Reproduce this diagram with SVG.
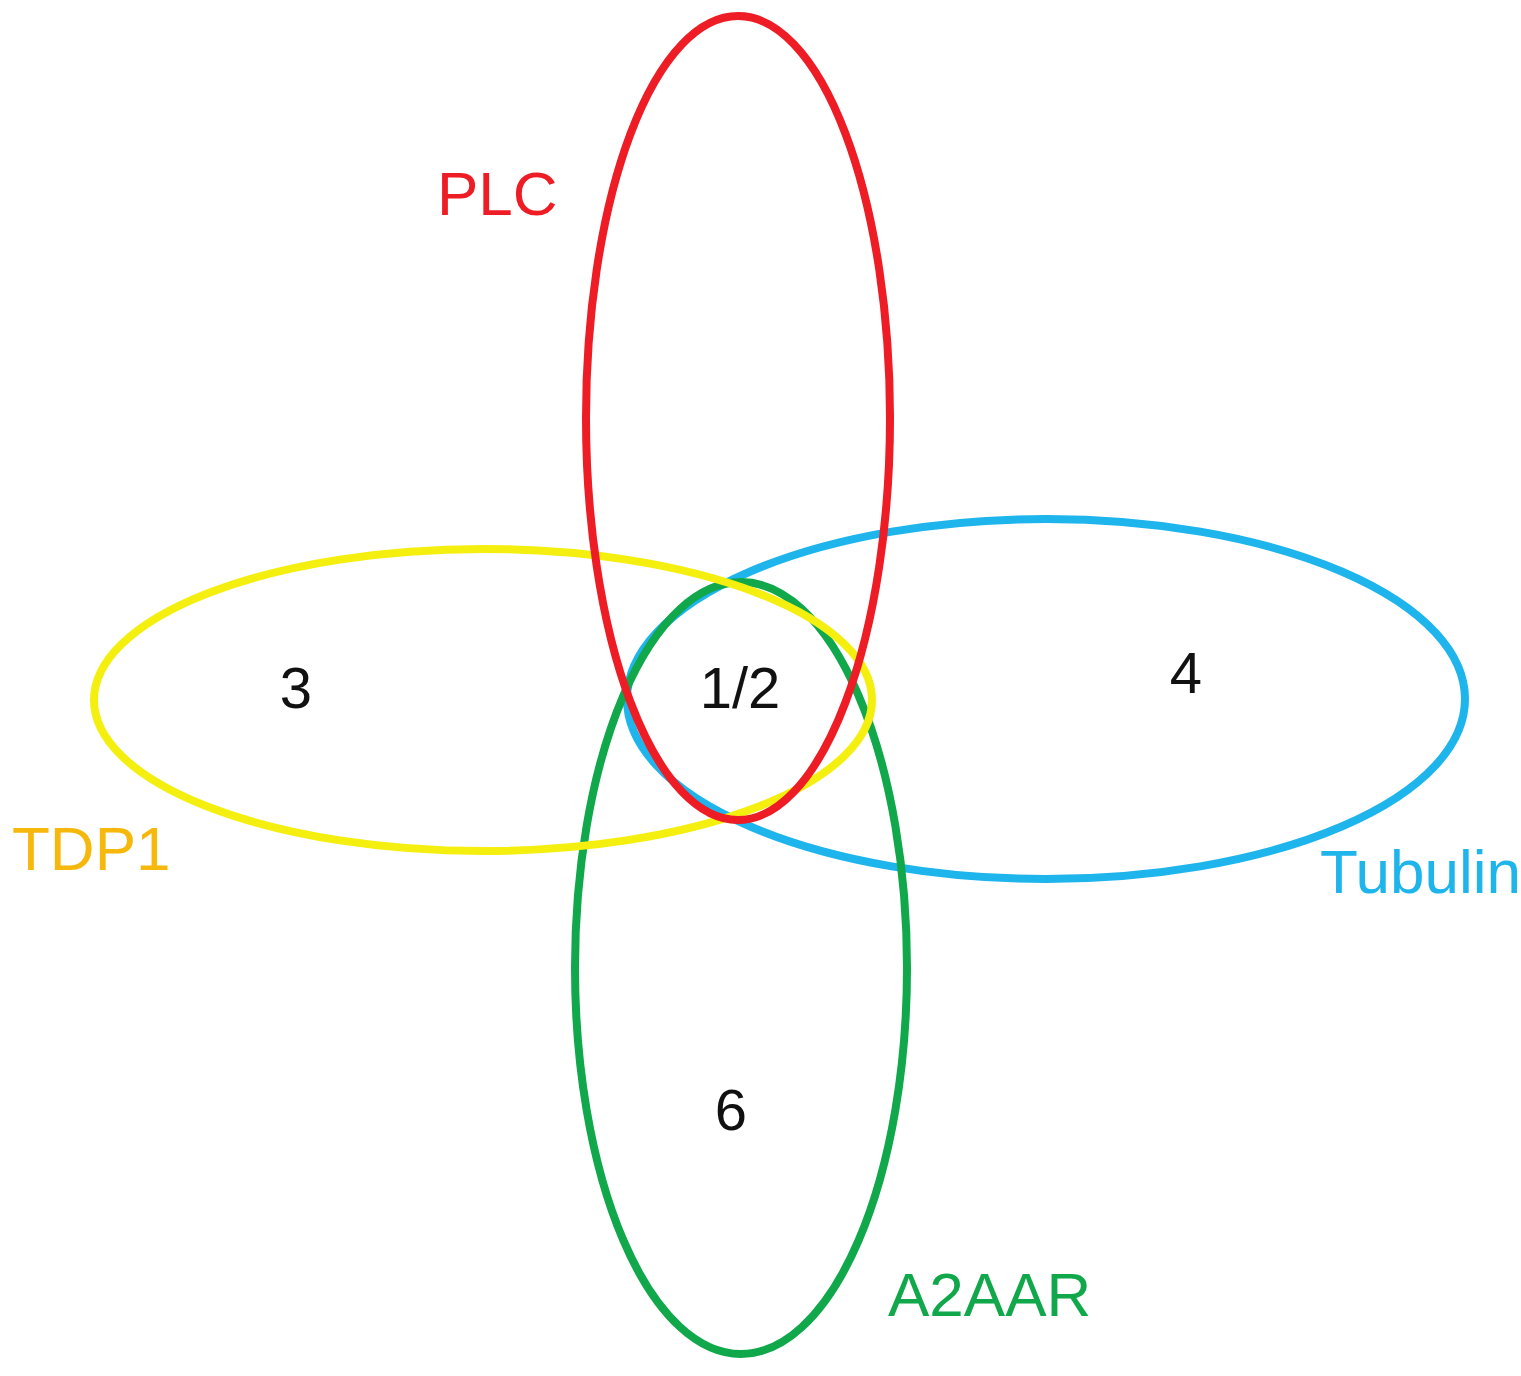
<svg xmlns="http://www.w3.org/2000/svg" width="1521" height="1376" viewBox="0 0 1521 1376">
<style>
.e{fill:none;stroke-width:8}
.t{font-family:"Liberation Sans",Arial,sans-serif;font-size:62px}
.n{font-family:"Liberation Sans",Arial,sans-serif;font-size:58px;fill:#111;text-anchor:middle}
</style>
<rect width="1521" height="1376" fill="#fff"/>
<g id="tubulin"><ellipse class="e" cx="1046" cy="699" rx="419" ry="180" stroke="#1eb4ec"/><text class="t" x="1320" y="893" fill="#1eb4ec">Tubulin</text></g>
<g id="a2aar"><ellipse class="e" cx="741" cy="968" rx="166" ry="386" stroke="#10a84a"/><text class="t" x="888" y="1316" fill="#10a84a">A2AAR</text></g>
<g id="tdp1"><ellipse class="e" cx="483" cy="700" rx="389" ry="151" stroke="#f5ef10"/><text class="t" x="12" y="870" fill="#f7b80e">TDP1</text></g>
<g id="plc"><ellipse class="e" cx="738" cy="418" rx="152" ry="402" stroke="#ee1c24"/><text class="t" x="437" y="215" fill="#ee1c24">PLC</text></g>
<g id="numbers">
<text class="n" x="296" y="708">3</text>
<text class="n" x="740" y="708">1/2</text>
<text class="n" x="1186" y="693">4</text>
<text class="n" x="731" y="1130">6</text>
</g>
</svg>
